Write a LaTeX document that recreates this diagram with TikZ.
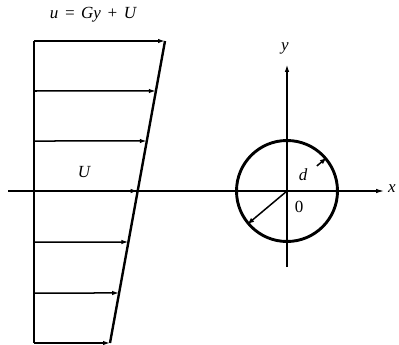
\documentclass[tikz,border=0pt]{standalone}
\usepackage{fontspec}
\setmainfont{Liberation Serif}
\usetikzlibrary{arrows.meta,calc}
\begin{document}
\begin{tikzpicture}[x=1pt,y=-1pt,
  thickline/.style={line width=2.4pt},
  vel/.style={line width=1.5pt,-{Latex[length=7pt,width=4.5pt]}},
  axis/.style={line width=1.1pt},
  lbl/.style={font=\itshape\fontsize{17}{19}\selectfont, inner sep=1pt}]
\useasboundingbox (0,0) rectangle (399,345);
% velocity profile
\coordinate (wt) at (34,41);
\coordinate (wb) at (34,343);
\coordinate (st) at (165,41);
\coordinate (sb) at (110,343);
\draw[thickline] (wt) -- (wb);
\draw[thickline] (st) -- (sb);
\foreach \yy in {41,91,141,191,242,293,343}{
  \coordinate (a\yy) at (34,\yy);
  \path (st) -- (sb) coordinate[pos={(\yy-41)/302}] (b\yy);
  \draw[vel] (a\yy) -- (b\yy);
}
% x axis
\coordinate (xl) at (8,191);
\coordinate (xr) at (384,191);
\draw[axis,-{Latex[length=8pt,width=4.5pt]}] (xl) -- (xr);
\node[lbl,anchor=west] (xlab) at (387,189) {x};
% y axis
\coordinate (o) at (287,191);
\coordinate (yb) at (287,267);
\coordinate (yt) at (287,64);
\draw[line width=1.7pt,-{Latex[length=8pt,width=4.5pt]}] (yb) -- (yt);
\node[lbl] (ylab) at (285,48) {y};
% circle
\node[draw, circle, line width=2.9pt, minimum size=101pt, inner sep=0pt] (cyl) at (o) {};
\draw[line width=1.5pt,-{Latex[length=7pt,width=5pt]}] (o) -- (cyl.220);
\coordinate (dstart) at ($(o)!0.75!(cyl.40)$);
\draw[line width=1.5pt,-{Latex[length=7pt,width=5pt]}] (dstart) -- (cyl.40);
\node[lbl] (dlab) at (303,175) {d};
\node[font=\fontsize{17}{19}\selectfont] (olab) at (299,207) {0};
% labels
\node[lbl] (Ulab) at (84,172) {U};
\node[lbl] (ulab) at (93,15) {u\,\,=\,\,Gy\,\,+\,\,U};
\end{tikzpicture}
\end{document}
